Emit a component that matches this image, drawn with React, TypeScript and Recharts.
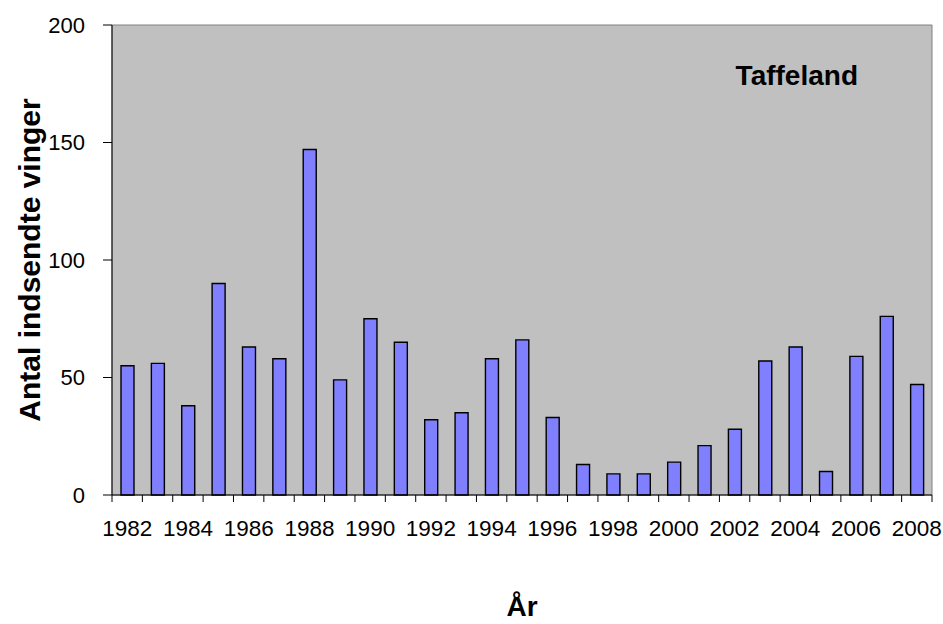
import { BarChart, Bar, XAxis, YAxis, CartesianGrid, ReferenceArea } from 'recharts'

const YEARS = [
  1982, 1983, 1984, 1985, 1986, 1987, 1988, 1989, 1990, 1991, 1992, 1993, 1994, 1995,
  1996, 1997, 1998, 1999, 2000, 2001, 2002, 2003, 2004, 2005, 2006, 2007, 2008,
]
const WINGS = [
  55, 56, 38, 90, 63, 58, 147, 49, 75, 65, 32, 35, 58, 66,
  33, 13, 9, 9, 14, 21, 28, 57, 63, 10, 59, 76, 47,
]
const Y_TICKS = [0, 50, 100, 150, 200]

const data = YEARS.map((year, i) => ({ year, wings: WINGS[i] }))

const W = 943
const H = 624
const FONT = 'Arial, "Liberation Sans", sans-serif'
const PLOT_LEFT = 112
const PLOT_RIGHT = 11
const BAND = (W - PLOT_LEFT - PLOT_RIGHT) / YEARS.length

// ticks sit on the category boundaries, labels on every other year
function YearTick(props: any) {
  const { x, y, payload, index } = props
  const last = index === YEARS.length - 1
  return (
    <g>
      <line x1={x - BAND / 2} y1={y} x2={x - BAND / 2} y2={y + 7} stroke="#000" />
      {last && <line x1={x + BAND / 2} y1={y} x2={x + BAND / 2} y2={y + 7} stroke="#000" />}
      {index % 2 === 0 && (
        <text x={x} y={y + 41} textAnchor="middle" fontSize={22.5} fill="#000" fontFamily={FONT}>
          {payload.value}
        </text>
      )}
    </g>
  )
}

export default function App() {
  return (
    <div style={{ position: 'absolute', left: 0, top: 0, width: W, height: H, background: '#fff', fontFamily: FONT }}>
      <BarChart width={W} height={H} data={data} margin={{ top: 25, right: PLOT_RIGHT, bottom: 0, left: 0 }} barCategoryGap={0}>
        <CartesianGrid horizontal={false} vertical={false} fill="#c0c0c0" />
        <ReferenceArea
          y1={0}
          y2={200}
          fill="#c0c0c0"
          fillOpacity={0}
          stroke="#808080"
          strokeWidth={1}
          label={{ value: 'Taffeland', position: 'insideTopRight', offset: 40, dx: -34, fontSize: 28, fontWeight: 'bold', fill: '#000', fontFamily: FONT }}
        />
        <XAxis
          dataKey="year"
          interval={0}
          height={129}
          tickSize={0}
          tickMargin={0}
          tickLine={false}
          axisLine={{ stroke: '#000' }}
          tick={<YearTick />}
          label={{ value: 'År', position: 'insideBottom', offset: 8, fontSize: 28, fontWeight: 'bold', fill: '#000', fontFamily: FONT }}
        />
        <YAxis
          type="number"
          domain={[0, 200]}
          ticks={Y_TICKS}
          width={PLOT_LEFT}
          tickSize={9}
          tickMargin={18}
          axisLine={{ stroke: '#000' }}
          tickLine={{ stroke: '#000' }}
          tick={{ fontSize: 22, fill: '#000', fontFamily: FONT }}
          label={{ value: 'Antal indsendte vinger', angle: -90, position: 'center', dx: -27, fontSize: 30, fontWeight: 'bold', fill: '#000', fontFamily: FONT }}
        />
        <Bar dataKey="wings" fill="#8080ff" stroke="#000" strokeWidth={1.4} barSize={13} isAnimationActive={false} />
      </BarChart>
    </div>
  )
}
